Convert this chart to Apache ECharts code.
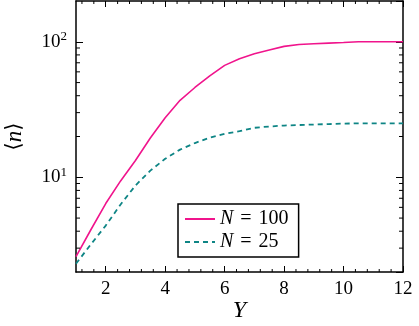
<!DOCTYPE html>
<html>
<head>
<meta charset="utf-8">
<script src="https://cdn.jsdelivr.net/npm/echarts@6/dist/echarts.min.js"></script>
<style>
  html, body { margin: 0; padding: 0; background: #fff; }
  #chart { width: 419px; height: 326px; }
</style>
</head>
<body>
<div id="chart"></div>
<script>
var yValues = [1, 1.5, 2, 2.5, 3, 3.5, 4, 4.5, 5, 5.5, 6, 6.5, 7, 7.5, 8, 8.5, 9, 9.5, 10, 10.5, 11, 11.5, 12];
var n100 = [2.6, 4.1, 6.4, 9.4, 13.3, 19.5, 27.5, 37, 46, 56, 67, 75, 81.5, 87, 92.5, 95.5, 96.7, 97.8, 98.8, 100, 100, 100, 100];
var n25 = [2.3, 3.2, 4.4, 6.3, 8.7, 11.2, 13.7, 16.0, 17.9, 19.6, 20.9, 21.9, 23.2, 23.7, 24.1, 24.3, 24.5, 24.7, 24.9, 25, 25, 25, 25];
var seriesNames = ['N = 100', 'N = 25'];
var xMajorTicks = [2, 4, 6, 8, 10, 12];
var xMinorTicks = [1.2, 1.6, 2.4, 2.8, 3.2, 3.6, 4.4, 4.8, 5.2, 5.6, 6.4, 6.8, 7.2, 7.6,
    8.4, 8.8, 9.2, 9.6, 10.4, 10.8, 11.2, 11.6];
var yMinorTicks = [3, 4, 5, 6, 7, 8, 9, 20, 30, 40, 50, 60, 70, 80, 90];

var xMin = 1, xMax = 12, yMin = 2, yMax = 200;
var serif = '"Liberation Serif", "DejaVu Serif", serif';

var myChart = echarts.init(document.getElementById('chart'));

function pairs(ys) {
    return yValues.map(function (x, i) { return [x, ys[i]]; });
}

var axisLine = { show: true, lineStyle: { color: '#000', width: 1.5 } };
var majorTick = { inside: true, length: 6, customValues: xMajorTicks, lineStyle: { color: '#000', width: 1 } };
var tickStyle = { stroke: '#000', lineWidth: 1 };

// minor tick marks on the frame, placed through the axes' scales
function xMinorRender(params, api) {
    var a = api.coord([api.value(0), yMin]);
    var b = api.coord([api.value(0), yMax]);
    return {
        type: 'group',
        children: [
            { type: 'line', shape: { x1: a[0], y1: a[1], x2: a[0], y2: a[1] - 3 }, style: tickStyle },
            { type: 'line', shape: { x1: b[0], y1: b[1], x2: b[0], y2: b[1] + 3 }, style: tickStyle }
        ]
    };
}
function yMinorRender(params, api) {
    var a = api.coord([xMin, api.value(1)]);
    var b = api.coord([xMax, api.value(1)]);
    return {
        type: 'group',
        children: [
            { type: 'line', shape: { x1: a[0], y1: a[1], x2: a[0] + 4, y2: a[1] }, style: tickStyle },
            { type: 'line', shape: { x1: b[0] - 4, y1: b[1], x2: b[0], y2: b[1] }, style: tickStyle }
        ]
    };
}
// x tick labels under the bottom axis, positioned by the x scale
function xLabelRender(params, api) {
    var p = api.coord([api.value(0), yMin]);
    return {
        type: 'text',
        x: p[0], y: p[1] + 8,
        style: {
            text: String(api.value(0)),
            fill: '#000', font: '19px ' + serif,
            textAlign: 'center', textVerticalAlign: 'top'
        }
    };
}

var option = {
    animation: false,
    grid: { left: 76, right: 16, top: 1, bottom: 54, containLabel: false, outerBoundsMode: 'none' },
    xAxis: [
        {
            type: 'value', min: xMin, max: xMax,
            position: 'bottom',
            axisLine: axisLine,
            axisTick: majorTick,
            splitLine: { show: false },
            axisLabel: { show: false },
            name: 'Y', nameLocation: 'middle', nameGap: 27,
            nameTextStyle: { color: '#000', fontSize: 24, fontStyle: 'italic', fontFamily: serif }
        },
        {
            type: 'value', min: xMin, max: xMax,
            position: 'top',
            axisLine: axisLine,
            axisTick: majorTick,
            splitLine: { show: false },
            axisLabel: { show: false }
        }
    ],
    yAxis: [
        {
            type: 'log', logBase: 10, min: yMin, max: yMax,
            position: 'left',
            axisLine: axisLine,
            axisTick: { inside: true, length: 7, lineStyle: { color: '#000', width: 1 } },
            splitLine: { show: false },
            axisLabel: {
                margin: 9, color: '#000', fontSize: 19, fontFamily: serif,
                showMinLabel: false, showMaxLabel: false,
                formatter: function (v) {
                    var e = Math.round(Math.log10(v));
                    if (Math.abs(Math.pow(10, e) - v) > 1e-6) return '';
                    return '{b|10}{s|' + e + '}';
                },
                rich: {
                    b: { fontSize: 19, fontFamily: serif, color: '#000' },
                    s: { fontSize: 13, fontFamily: serif, color: '#000', padding: [0, 0, 10, 0] }
                }
            },
            name: '{a|\u27E8}{i|n}{a|\u27E9}', nameLocation: 'middle', nameGap: 50, nameRotate: 90,
            nameTextStyle: {
                rich: {
                    a: { fontSize: 21, fontFamily: '"DejaVu Serif", serif', color: '#000' },
                    i: { fontSize: 23, fontStyle: 'italic', fontFamily: serif, color: '#000' }
                }
            }
        },
        {
            type: 'log', logBase: 10, min: yMin, max: yMax,
            position: 'right',
            axisLine: axisLine,
            axisTick: { inside: true, length: 7, lineStyle: { color: '#000', width: 1 } },
            splitLine: { show: false },
            axisLabel: { show: false }
        }
    ],
    legend: {
        orient: 'vertical',
        left: 178, top: 204,
        padding: [5, 10, 5, 6],
        itemGap: 3,
        itemWidth: 30, itemHeight: 14,
        borderColor: '#000', borderWidth: 1.5,
        backgroundColor: '#fff',
        itemStyle: { opacity: 0 },
        data: seriesNames,
        formatter: function (name) {
            var parts = name.split(' = ');
            return '{i|' + parts[0] + '}{e|=}{t|' + parts[1] + '}';
        },
        textStyle: {
            rich: {
                i: { fontSize: 20, lineHeight: 20, fontStyle: 'italic', fontFamily: serif, color: '#000' },
                e: { fontSize: 20, lineHeight: 20, fontFamily: serif, color: '#000', padding: [0, 7, 0, 7] },
                t: { fontSize: 20, lineHeight: 20, fontFamily: serif, color: '#000' }
            }
        }
    },
    series: [
        {
            name: seriesNames[0], type: 'line', xAxisIndex: 0, yAxisIndex: 0,
            data: pairs(n100), symbol: 'none', smooth: false,
            lineStyle: { color: '#f0148c', width: 1.6 },
            itemStyle: { color: '#f0148c' }
        },
        {
            name: seriesNames[1], type: 'line', xAxisIndex: 0, yAxisIndex: 0,
            data: pairs(n25), symbol: 'none', smooth: false,
            lineStyle: { color: '#0e8585', width: 1.8, type: [5, 4] },
            itemStyle: { color: '#0e8585' }
        },
        {
            type: 'custom', xAxisIndex: 0, yAxisIndex: 0,
            silent: true, clip: false, z: 5,
            data: xMinorTicks.map(function (v) { return [v, yMin]; }),
            renderItem: xMinorRender
        },
        {
            type: 'custom', xAxisIndex: 0, yAxisIndex: 0,
            silent: true, clip: false, z: 5,
            data: yMinorTicks.map(function (v) { return [xMin, v]; }),
            renderItem: yMinorRender
        },
        {
            type: 'custom', xAxisIndex: 0, yAxisIndex: 0,
            silent: true, clip: false, z: 5,
            data: xMajorTicks.map(function (v) { return [v, yMin]; }),
            renderItem: xLabelRender
        }
    ]
};
myChart.setOption(option);
window.addEventListener('resize', function () {
    myChart.resize();
});
</script>
</body>
</html>
